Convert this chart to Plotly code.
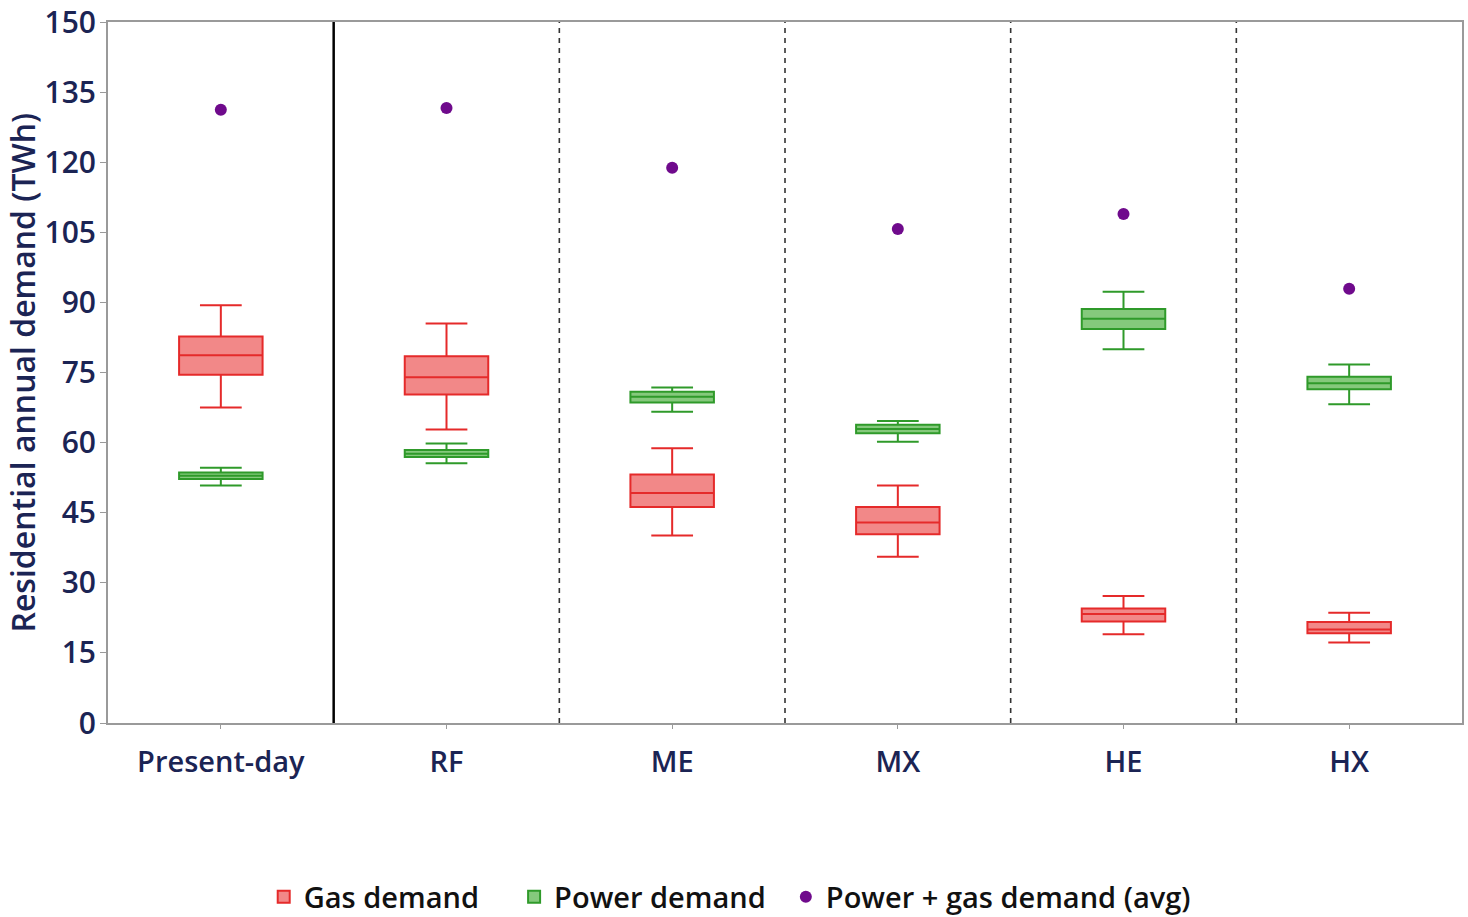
import plotly.graph_objects as go

categories = ["Present-day", "RF", "ME", "MX", "HE", "HX"]

gas_low = [67.5, 62.8, 40.1, 35.6, 19.0, 17.2]
gas_q1 = [74.5, 70.3, 46.2, 40.4, 21.7, 19.2]
gas_med = [78.7, 74.0, 49.2, 42.9, 23.3, 20.0]
gas_q3 = [82.7, 78.5, 53.2, 46.2, 24.5, 21.6]
gas_high = [89.4, 85.5, 58.8, 50.8, 27.2, 23.6]

pow_low = [50.8, 55.6, 66.6, 60.2, 80.0, 68.2]
pow_q1 = [52.2, 56.9, 68.6, 62.0, 84.3, 71.4]
pow_med = [52.9, 57.6, 69.8, 62.9, 86.5, 72.7]
pow_q3 = [53.6, 58.4, 70.9, 63.8, 88.6, 74.1]
pow_high = [54.6, 59.8, 71.8, 64.6, 92.3, 76.7]

total_avg = [131.2, 131.6, 118.8, 105.7, 108.9, 92.9]

y_ticks = [0, 15, 30, 45, 60, 75, 90, 105, 120, 135, 150]

legend_names = ["Gas demand", "Power demand", "Power + gas demand (avg)"]
y_title = "Residential annual demand (TWh)"

font_fam = "Open Sans"
navy = "#1b2454"

fig = go.Figure()
fig.add_trace(go.Box(
    x=categories, q1=gas_q1, median=gas_med, q3=gas_q3,
    lowerfence=gas_low, upperfence=gas_high,
    name=legend_names[0] + "\u00a0" * 4, fillcolor="rgba(240,115,115,0.85)",
    line=dict(color="#e52a2a", width=2), whiskerwidth=0.5, width=0.37,
    boxpoints=False, hoverinfo="skip",
))
fig.add_trace(go.Box(
    x=categories, q1=pow_q1, median=pow_med, q3=pow_q3,
    lowerfence=pow_low, upperfence=pow_high,
    name=legend_names[1] + "\u00a0" * 2, fillcolor="rgba(120,195,110,0.9)",
    line=dict(color="#2f9a2a", width=2), whiskerwidth=0.5, width=0.37,
    boxpoints=False, hoverinfo="skip",
))
fig.add_trace(go.Scatter(
    x=categories, y=total_avg, mode="markers",
    name=legend_names[2],
    marker=dict(color="#6f0a8c", size=12),
))

shapes = []
for i in range(1, len(categories)):
    shapes.append(dict(
        type="line", xref="x", yref="paper", x0=i - 0.5, x1=i - 0.5, y0=0, y1=1,
        line=dict(color="black" if i == 1 else "#333333", width=2.5 if i == 1 else 1.6,
                  dash="solid" if i == 1 else "5px,5px"),
        layer="below",
    ))
fig.update_layout(
    width=1468, height=917,
    margin=dict(l=108, r=6, t=22, b=194, autoexpand=False),
    plot_bgcolor="white", paper_bgcolor="white",
    boxmode="overlay",
    shapes=shapes,
    showlegend=True,
    legend=dict(orientation="h", x=0.115, xanchor="left", y=-0.248, yanchor="middle",
                font=dict(family=font_fam, size=29, color="#111111", weight=600),
                bgcolor="rgba(0,0,0,0)",
                itemsizing="constant", traceorder="normal"),
    font=dict(family=font_fam, color=navy),
    annotations=[dict(
        text=y_title, textangle=-90, xref="paper", yref="paper",
        x=-0.0635, y=0.5, xanchor="center", yanchor="middle", showarrow=False,
        font=dict(family=font_fam, size=32, color=navy, weight=600),
    )],
)
fig.update_xaxes(
    type="category", range=[-0.5, 5.5], automargin=False,
    showline=True, linecolor="#9a9a9a", linewidth=2, mirror=True,
    ticks="outside", ticklen=4, tickcolor="#9a9a9a", ticklabelstandoff=8,
    tickfont=dict(family=font_fam, size=29, color=navy, weight=600),
    showgrid=False,
)
fig.update_yaxes(
    range=[0, 150], tickvals=y_ticks, automargin=False, ticklabeloverflow="allow",
    showline=True, linecolor="#9a9a9a", linewidth=2, mirror=True,
    ticks="outside", ticklen=6, tickcolor="#9a9a9a", ticklabelstandoff=-2,
    tickfont=dict(family=font_fam, size=30, color=navy, weight=600),
    showgrid=False, zeroline=False,
)

fig.write_html("out.html", config={"displayModeBar": False},
               post_script="document.body.style.margin='0px';")
